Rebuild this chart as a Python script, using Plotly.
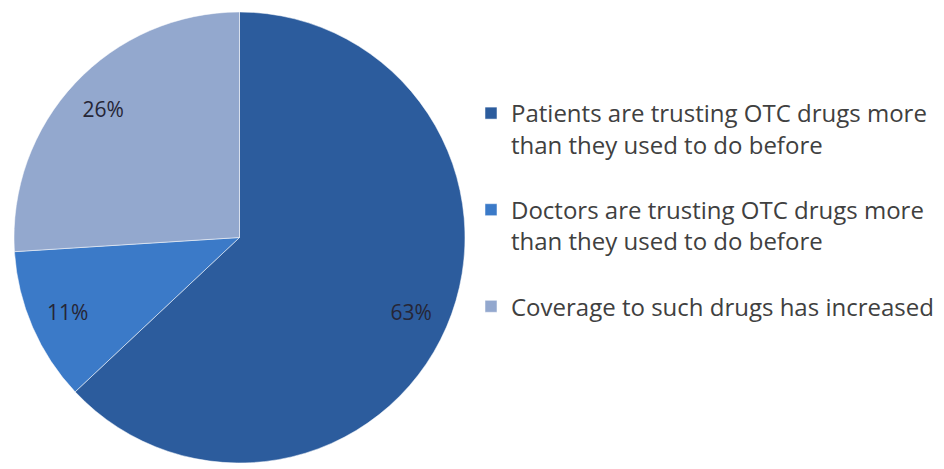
import plotly.graph_objects as go

labels = [
    "Patients are trusting OTC drugs more<br>than they used to do before",
    "Doctors are trusting OTC drugs more<br>than they used to do before",
    "Coverage to such drugs has increased",
]
values = [63, 11, 26]
colors = ["#2C5C9D", "#3B7AC8", "#93A8CE"]

W, H = 944, 469
dom = dict(x=[6 / W, 457 / W], y=[12 / H, 467 / H])

# legend entries: a blank trailing line after the two-line entries gives the
# wider vertical spacing seen between legend items
legend_text = [lab + "<br>" if i < len(labels) - 1 else lab for i, lab in enumerate(labels)]

# coloured slices
fig = go.Figure(
    go.Pie(
        labels=legend_text,
        values=values,
        sort=False,
        direction="clockwise",
        rotation=0,
        marker=dict(colors=colors, line=dict(color="rgba(255,255,255,0.5)", width=1)),
        textinfo="none",
        domain=dom,
        hovertemplate="%{customdata}<br>%{percent:.0%}<extra></extra>",
        customdata=labels,
    )
)

# percentage labels placed in the outer ring of the same slices
fig.add_trace(
    go.Pie(
        labels=legend_text,
        values=values,
        sort=False,
        direction="clockwise",
        rotation=0,
        hole=0.66,
        marker=dict(colors=["rgba(0,0,0,0)"] * 3, line=dict(width=0)),
        texttemplate="%{percent:.0%}",
        textposition="inside",
        insidetextorientation="horizontal",
        textfont=dict(family="Open Sans", size=21, color="#262636"),
        domain=dom,
        showlegend=False,
        hoverinfo="skip",
    )
)

fig.update_layout(
    width=W,
    height=H,
    margin=dict(l=0, r=0, t=0, b=0),
    paper_bgcolor="white",
    plot_bgcolor="white",
    showlegend=True,
    legend=dict(
        x=463 / W,
        y=1 - 83 / H,
        xanchor="left",
        yanchor="top",
        valign="top",
        font=dict(family="Open Sans", size=24, color="#404040"),
        bgcolor="rgba(0,0,0,0)",
    ),
)

fig.write_html("out.html")
